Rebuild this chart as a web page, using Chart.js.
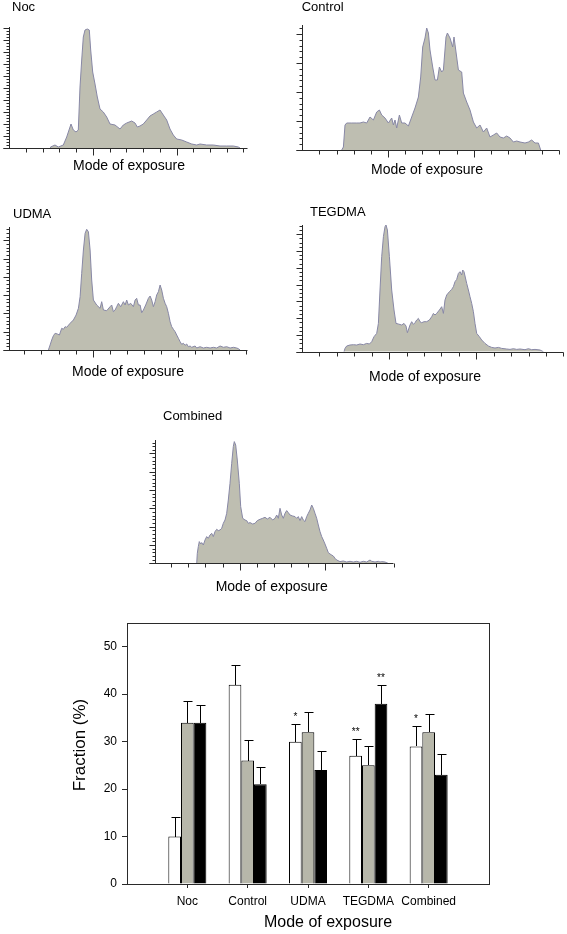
<!DOCTYPE html>
<html><head><meta charset="utf-8">
<script src="https://cdn.jsdelivr.net/npm/chart.js@4.4.0/dist/chart.umd.min.js"></script>
<style>
html,body{margin:0;padding:0;background:#fff;}
body{width:567px;height:934px;position:relative;overflow:hidden;}
canvas{position:absolute;}
</style></head><body>
<script>
// ---------------- Histogram data (channel, count) ----------------
const nocX = [47,47.5,52,55.3,60.3,63.7,68,70.3,73,75.3,77,78.7,80.3,82,84.3,86.3,87.7,89.7,92,94.3,97,100.3,103.7,107,112,117,120.3,123.7,128.7,132,134.3,137,140.3,143.7,147,150.3,153.7,157,160.3,163.7,167,170.3,173.7,178.7,183.7,188.7,193.7,197,203.7,210.3,217,223.7,230.3,235.3,237];
const nocY = [0,1,3,1,3,11,24,18,16,18,61,88,111,118,119,118,98,76,64,51,39,36,31,24,23,19,23,25,27,25,21,22,24,28,32,34,36,38,33,28,19,13,9,8,6,4,3,4,3,3,2,2,2,1,0];

const controlX = [40,41.7,43.3,45,50,55,58.3,61.7,65,68.3,71.7,75,77.7,80,83.3,86.7,90,91.7,93.3,95,97.7,100,103.3,106.7,110,113.3,116.7,119,121,123.3,125,126.7,128.3,131,133.3,135.7,137.7,140,141.7,144.3,145.7,148.3,151,152.3,154.3,156.7,160,161.7,165,168.3,171.7,175,178.3,181.7,185,188.3,191.7,195,198.3,201.7,205,208.3,211.7,215,218.3,223.3,226.7,230,233.3,236.7,239];
const controlY = [0,3,25,27,27,27,27,28,27,33,30,38,40,35,32,27,32,25,30,22,35,27,27,24,33,42,53,73,103,112,122,117,100,83,70,70,83,78,80,113,117,112,103,113,98,80,78,57,48,40,28,22,25,18,22,13,15,17,13,12,14,12,8,9,8,7,8,10,7,7,0];

const udmaX = [45,46.7,48.3,50,51.7,54,56,58.3,60,61.7,63.3,66.7,70,72.7,75,76.7,78.3,80,81.7,83.3,85,86.7,88.3,90,93.3,96.7,98.3,100,103.3,106.7,108.3,110,111.7,113.3,115,117.3,120,121.7,123.3,125,127.3,130,131.7,133.3,135,136.7,138.3,140,142.3,145,146.7,148.3,150,151.7,153.3,155,156.7,158.3,160,161.7,163.3,165,166.7,168.3,170,171.7,173.3,175,176.7,178.3,180,181.7,183.3,185,186.7,188.3,191.7,193.3,196.7,200,203.3,206.7,210,213.3,216.7,220,223.3,226.7,230,233.3,235,236.7];
const udmaY = [0,5,10,14.3,16.7,16,15,21.7,20.7,23.3,22.7,26.7,30,35,41.7,53.3,76.7,100,116.7,120.7,118.3,100,70,50,45,41.7,48.3,40,39.3,43.3,45,38.3,40,43.3,46.7,43.3,48.3,45,50,45,46.7,43.3,50,51.7,45,45,37.3,40,45,51.7,54,50,43.3,48.3,55,58.3,65,60,51.7,46.7,43.3,36.7,28.3,23.3,20.7,18.3,15,11.7,8.3,5.7,6.7,4.7,6,3.3,4,2.7,4,2,3.3,2,2.7,2,2.7,2,4,2.7,3.3,2,2.7,2,1.3,0];

const tegdmaX = [42.3,43.3,45,48.3,51.7,55,58.3,61.7,65,67.7,70,72.3,75,76.7,78.3,80,81.7,83.3,84.3,85.7,87.7,90,92.3,94.3,96.7,100,102.3,104.3,105.7,108.3,110,111.7,113.3,115,116.7,118.3,120,122.3,125,127.7,130,131.7,133.3,135,137.7,140,141.7,143.3,145,147.7,150,151.7,153.3,155,156.7,158.3,160,161,162.3,163.3,165,166.7,168.3,170,171.7,173.3,175,177.7,180,183.3,186.7,190,193.3,196.7,200,205,208.3,211.7,215,218.3,223.3,226.7,230,233.3,238.3,241.7];
const tegdmaY = [0,3.3,5.7,6.7,7,6.7,7.7,7,8.3,7.7,10,15,18.3,28.3,61.7,95,115,125,126.7,121.7,95,61.7,41.7,28.3,27.7,26.7,28.3,25.7,19,26.7,30,27.3,29,31.7,33.3,30,29,30,30,31.7,35,38.3,36.7,38.3,41.7,45,38.3,51.7,56.7,60,62.3,65,70,72.3,78.3,80,76.7,81.7,80,75.7,68.3,61.7,55,48.3,40,28.3,18.3,15,11.7,8.3,5.7,4.3,3.7,4.3,3.3,2.7,2.3,3,2.3,2.7,2,3,2,2.3,1.7,0];

const combinedX = [41.7,42.3,43.3,44.3,45.7,46.7,48.3,50,51.7,53.3,55,56.7,58.3,60,61.7,63.3,65,66.7,68.3,70,71.7,73.3,75,76.7,78.3,79.3,80.7,82.3,84.3,85.7,87.7,90,91.7,93.3,95,97.7,100,102.3,105,107.7,110,112.3,115,117.7,120,121.7,123.3,125,126.7,128.3,130,131.7,133.3,135,137.7,140,141.7,143.3,145,146.7,148.3,150,151.7,153.3,155,156.7,158.3,160,161.7,163.3,165,166.7,168.3,170,171.7,173.3,175,176.7,178.3,180,181.7,185,188.3,191.7,195,198.3,201.7,205,208.3,211.7,215,216.7,220,223.3,225,226.7,230,233];
const combinedY = [0,10,16.7,21.7,19.3,20.7,18.3,23.3,26.7,25,28.3,30,26.7,31.7,34,32.7,33.3,35,40,43.3,50,63.3,80,100,116.7,121.7,118.3,103.3,80,56.7,45,43.3,42.7,40,40.7,39.3,40,42.7,44,45,46,44.3,46,43.3,45,48.3,45,55,48.3,45,50,52.7,50.7,48.3,47.3,46.7,45,46.7,42.7,46.7,43.3,41.7,46.7,50,53.3,58.3,55,50,45,38.3,31.7,26.7,23.3,19.3,15,10.7,9.3,8.3,7.3,5,3.3,1.7,2.3,1.3,2,1.3,2,1,2,1.3,3.3,2,1.3,2,1.3,1.7,1.3,0];

// ---------------- Bar chart data ----------------
const barCategories = ['Noc','Control','UDMA','TEGDMA','Combined'];
const whiteValues = [10,42,30,27,29];
const whiteErrors = [4.1,4.1,3.8,3.5,4.2];
const grayValues  = [34,26,32,25,32];
const grayErrors  = [4.5,4.3,4.2,4.0,3.9];
const blackValues = [34,21,24,38,23];
const blackErrors = [3.8,3.7,4.1,3.9,4.5];
const whiteMarks = ['','','*','**','*'];
const grayMarks  = ['','','','',''];
const blackMarks = ['','','','**',''];
const yTickMax = 55;
const yTickStep = 10;

// ---------------- Layout / style ----------------
const FONT = '"Liberation Sans", Arial, Helvetica, sans-serif';
Chart.defaults.font.family = FONT;
Chart.defaults.color = '#000';
const AXIS = '#2a2a2a';
const HIST_FILL = 'rgb(190,190,177)';
const HIST_LINE = 'rgb(136,136,166)';

const histPanels = [
  {name:'Noc', xs:nocX, ys:nocY, box:{left:8.5,right:246.7,top:27,bottom:148},
   xMin:5.5, xMax:243.7, yMax:121, xt:{start:23,step:16.73,count:14,major:[4,9]}, yt:{step:3,every:4},
   nameDx:3.5, nameDy:-20, titleDx:120.5, titleDy:17.7},
  {name:'Control', xs:controlX, ys:controlY, box:{left:301.7,right:559.3,top:25,bottom:150},
   xMin:0, xMax:257.6, yMax:125, xt:{start:17.7,step:17.14,count:15,major:[4,9]}, yt:{step:5.8,every:5},
   nameDx:0, nameDy:-18, titleDx:125.3, titleDy:20},
  {name:'UDMA', xs:udmaX, ys:udmaY, box:{left:8.7,right:246.7,top:227,bottom:350},
   xMin:5.3, xMax:243.3, yMax:123, xt:{start:21,step:17.05,count:14,major:[4,9]}, yt:{step:3.66,every:5},
   nameDx:4.3, nameDy:-12.3, titleDx:119.3, titleDy:21.7},
  {name:'TEGDMA', xs:tegdmaX, ys:tegdmaY, box:{left:301.7,right:563.3,top:225,bottom:351.7},
   xMin:0, xMax:261.6, yMax:126.7, xt:{start:17.7,step:17.43,count:15,major:[4,9]}, yt:{step:4.2,every:4},
   nameDx:8.3, nameDy:-13, titleDx:123.3, titleDy:25.6},
  {name:'Combined', xs:combinedX, ys:combinedY, box:{left:155,right:393,top:440,bottom:563.3},
   xMin:0, xMax:238, yMax:123.3, xt:{start:16.2,step:17.1,count:14,major:[4,9]}, yt:{step:3.66,every:5},
   nameDx:8, nameDy:-24, titleDx:116.7, titleDy:23.4},
];

const histAxesPlugin = {
  id: 'histAxes',
  afterDraw(chart, args, o) {
    const {ctx, chartArea: a, scales: {x, y}} = chart;
    ctx.save();
    ctx.strokeStyle = AXIS; ctx.lineWidth = 1;
    const ax = Math.round(a.left) + 0.5;
    const by = Math.round(a.bottom) + 0.5;
    ctx.beginPath();
    ctx.moveTo(ax, Math.round(a.top)); ctx.lineTo(ax, by);
    ctx.moveTo(ax - 6, by); ctx.lineTo(Math.round(a.right) + 0.5, by);
    for (let i = 0; i < o.xt.count; i++) {
      const px = Math.round(x.getPixelForValue(o.xt.start + i * o.xt.step)) + 0.5;
      const len = o.xt.major.includes(i) ? 7 : 4;
      ctx.moveTo(px, by); ctx.lineTo(px, by + len);
    }
    for (let i = 0; i * o.yt.step <= y.max + 0.01; i++) {
      const py = Math.round(y.getPixelForValue(i * o.yt.step)) + 0.5;
      const len = (i % o.yt.every === 0) ? 6 : 3;
      ctx.moveTo(ax - len, py); ctx.lineTo(ax, py);
    }
    ctx.stroke();
    ctx.fillStyle = '#000';
    ctx.textBaseline = 'middle';
    ctx.textAlign = 'left';
    ctx.font = '13px ' + FONT;
    ctx.fillText(o.name, a.left + o.nameDx, a.top + o.nameDy);
    ctx.textAlign = 'center';
    ctx.font = '14px ' + FONT;
    ctx.fillText('Mode of exposure', a.left + o.titleDx, a.bottom + o.titleDy);
    ctx.restore();
  }
};

function makeHistogram(p) {
  const m = {l: 12, r: 8, t: 36, b: 40};
  const cl = Math.floor(p.box.left) - m.l;
  const ct = Math.floor(p.box.top) - m.t;
  const cr = Math.ceil(p.box.right) + m.r;
  const cb = Math.ceil(p.box.bottom) + m.b;
  const c = document.createElement('canvas');
  c.width = cr - cl; c.height = cb - ct;
  c.style.left = cl + 'px'; c.style.top = ct + 'px';
  c.style.width = (cr - cl) + 'px'; c.style.height = (cb - ct) + 'px';
  document.body.appendChild(c);
  new Chart(c, {
    type: 'line',
    data: { datasets: [{
      data: p.xs.map((v, i) => ({x: v, y: p.ys[i]})),
      fill: 'origin', backgroundColor: HIST_FILL, borderColor: HIST_LINE,
      borderWidth: 1, pointRadius: 0, tension: 0
    }]},
    options: {
      responsive: false, animation: false, events: [],
      layout: { padding: {left: p.box.left - cl, right: cr - p.box.right, top: p.box.top - ct, bottom: cb - p.box.bottom} },
      scales: {
        x: { type: 'linear', display: false, min: p.xMin, max: p.xMax },
        y: { type: 'linear', display: false, min: 0, max: p.yMax }
      },
      plugins: {
        legend: {display: false}, tooltip: {enabled: false},
        histAxes: { name: p.name, xt: p.xt, yt: p.yt, nameDx: p.nameDx, nameDy: p.nameDy, titleDx: p.titleDx, titleDy: p.titleDy }
      }
    },
    plugins: [histAxesPlugin]
  });
}
histPanels.forEach(makeHistogram);

// ---------------- Bar chart ----------------
const pad = arr => [null, ...arr, null];
const barLabels = ['', ...barCategories, ''];

const barExtrasPlugin = {
  id: 'barExtras',
  afterDatasetsDraw(chart, args, o) {
    const {ctx, scales: {y}} = chart;
    ctx.save();
    ctx.strokeStyle = '#000'; ctx.lineWidth = 1;
    chart.data.datasets.forEach((ds, di) => {
      const meta = chart.getDatasetMeta(di);
      meta.data.forEach((bar, i) => {
        const v = ds.data[i], e = ds.errors[i];
        if (v == null || e == null) return;
        const topPx = Math.round(y.getPixelForValue(v + e)) + 0.5;
        const x = Math.round(bar.x) + 0.5;
        ctx.beginPath();
        ctx.moveTo(x, Math.round(bar.y)); ctx.lineTo(x, topPx);
        ctx.moveTo(x - o.cap, topPx); ctx.lineTo(x + o.cap + 1, topPx);
        ctx.stroke();
        const mark = ds.marks[i];
        if (mark) {
          ctx.fillStyle = '#000';
          ctx.font = '10px ' + FONT;
          ctx.textAlign = 'center'; ctx.textBaseline = 'alphabetic';
          ctx.fillText(mark, bar.x, topPx - o.markGap);
        }
      });
    });
    ctx.restore();
  },
  afterDraw(chart, args, o) {
    const {ctx, chartArea: a} = chart;
    ctx.save();
    ctx.strokeStyle = AXIS; ctx.lineWidth = 1;
    ctx.strokeRect(Math.round(a.left) + 0.5, Math.round(a.top) + 0.5, Math.round(a.right - a.left), Math.round(a.bottom - a.top));
    ctx.fillStyle = '#000';
    ctx.font = '16px ' + FONT;
    ctx.textAlign = 'center'; ctx.textBaseline = 'middle';
    ctx.fillText('Mode of exposure', a.left + o.titleDx, a.bottom + o.titleDy);
    ctx.save();
    ctx.translate(a.left + o.yTitleDx, a.top + o.yTitleDy);
    ctx.rotate(-Math.PI / 2);
    ctx.font = '17px ' + FONT;
    ctx.fillText('Fraction (%)', 0, 0);
    ctx.restore();
    ctx.restore();
  }
};

(function makeBar() {
  const c = document.createElement('canvas');
  c.width = 567; c.height = 334;
  c.style.left = '0px'; c.style.top = '600px';
  c.style.width = '567px'; c.style.height = '334px';
  document.body.appendChild(c);
  new Chart(c, {
    type: 'bar',
    data: {
      labels: barLabels,
      datasets: [
        {data: pad(whiteValues), errors: pad(whiteErrors), marks: pad(whiteMarks), backgroundColor: '#ffffff', borderColor: '#000', borderWidth: 1},
        {data: pad(grayValues), errors: pad(grayErrors), marks: pad(grayMarks), backgroundColor: 'rgb(183,183,170)', borderColor: '#000', borderWidth: 1},
        {data: pad(blackValues), errors: pad(blackErrors), marks: pad(blackMarks), backgroundColor: '#000000', borderColor: '#000', borderWidth: 1}
      ]
    },
    options: {
      responsive: false, animation: false, events: [],
      categoryPercentage: 0.63, barPercentage: 1.0,
      layout: {padding: {left: 67, right: 78, top: 23, bottom: 0}},
      scales: {
        x: {
          type: 'category', offset: false,
          grid: {display: true, offset: false, drawOnChartArea: false, drawTicks: true, tickLength: 4,
                 tickColor: ctx => (ctx.index === 0 || ctx.index === barLabels.length - 1) ? 'rgba(0,0,0,0)' : AXIS},
          border: {display: true, color: AXIS},
          ticks: {font: {size: 12}, color: '#000', padding: 6, maxRotation: 0, autoSkip: false},
          afterFit: s => { s.height = 50; }
        },
        y: {
          min: 0, max: yTickMax,
          grid: {display: true, drawOnChartArea: false, drawTicks: true, tickLength: 5, tickColor: AXIS},
          border: {display: true, color: AXIS},
          ticks: {stepSize: yTickStep, includeBounds: false, font: {size: 12}, color: '#000', padding: 5},
          afterFit: s => { s.width = 60; }
        }
      },
      plugins: {
        legend: {display: false}, tooltip: {enabled: false},
        barExtras: {cap: 4, markGap: 5, titleDx: 201, titleDy: 39, yTitleDx: -47, yTitleDy: 122}
      }
    },
    plugins: [barExtrasPlugin]
  });
})();
</script>
</body></html>
